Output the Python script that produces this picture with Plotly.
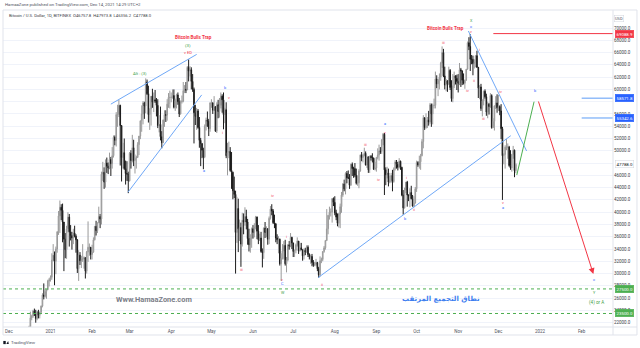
import pandas as pd
import plotly.graph_objects as go

# ---- Daily BTC/USD (Bitfinex) candles, values in thousands of USD ----
# one line per month: Dec-2020 (from the 16th) ... Dec-2021 (to the 14th)
open_k = [
    19.4,21.3,22.8,23.1,23.9,23.5,22.7,23.8,23.2,23.7,24.7,26.5,26.3,27.1,27.4,28.8,
    29.0,29.4,32.2,33.0,32.0,34.0,36.8,39.4,40.8,40.3,38.4,35.6,33.9,37.3,39.2,36.8,36.2,35.8,36.6,36.1,35.5,30.8,33.0,32.1,32.3,32.4,32.6,30.4,33.5,34.3,34.3,
    33.1,33.5,35.5,37.7,37.0,38.3,39.3,38.9,46.2,46.5,44.9,48.0,47.5,47.2,48.6,47.9,49.2,52.2,51.7,55.9,55.9,57.4,54.1,48.9,49.7,47.1,46.3,46.2,
    45.1,49.6,48.4,50.5,48.4,48.8,48.9,51.0,52.4,54.9,56.0,57.8,57.3,61.2,59.3,55.9,56.8,58.9,57.9,58.3,58.1,57.4,54.1,54.3,52.3,51.3,55.0,55.9,55.8,57.6,58.7,
    58.7,58.7,59.0,57.1,58.2,59.1,58.0,56.0,58.0,58.1,59.8,60.0,59.9,63.6,63.0,63.2,61.3,60.0,56.2,55.6,56.5,53.8,51.7,51.2,50.1,49.0,54.0,55.0,54.8,53.6,
    57.8,57.8,56.6,57.2,53.2,57.5,56.4,57.4,58.9,58.3,55.9,56.7,49.2,49.7,49.9,46.8,46.5,43.5,42.9,36.7,40.6,37.3,37.5,34.8,38.7,38.4,39.3,38.4,35.7,34.7,35.7,
    37.3,36.7,37.6,39.2,36.9,35.5,35.8,33.6,33.4,37.4,36.7,37.3,35.6,39.0,40.5,40.2,38.3,38.1,35.8,35.5,35.6,31.6,32.5,33.7,34.6,31.6,32.2,34.7,34.5,35.9,
    35.0,33.6,33.8,34.7,35.3,33.7,34.2,33.9,32.9,33.8,33.5,34.3,33.1,32.7,32.8,31.8,31.4,31.5,31.8,30.8,29.8,32.1,32.3,33.6,34.2,35.4,37.3,39.5,40.0,40.0,42.2,
    41.6,39.9,39.2,38.2,39.7,40.9,42.8,44.6,43.8,46.3,45.6,45.6,44.4,47.8,47.1,47.1,46.0,44.7,44.8,46.7,49.3,48.9,49.3,49.6,47.7,49.0,46.9,49.1,48.9,48.8,47.0,
    47.2,48.9,49.3,50.0,49.9,51.8,52.7,46.9,46.1,46.4,44.9,45.2,46.0,45.0,47.1,48.2,47.8,47.3,48.3,47.3,42.8,40.7,43.6,44.9,42.8,42.7,43.2,42.2,41.0,41.5,
    43.8,48.1,47.7,48.2,49.2,51.5,55.4,53.8,54.0,55.0,54.7,57.5,56.0,57.4,57.4,61.7,60.9,61.5,62.0,64.3,66.0,62.2,60.7,61.4,60.9,63.1,60.3,58.5,60.6,62.2,61.8,
    61.3,61.0,63.2,63.0,61.5,61.0,61.5,63.3,67.6,67.0,64.9,64.9,64.2,64.4,65.5,63.6,60.2,60.4,56.9,58.1,59.7,58.8,56.3,57.6,57.2,59.0,53.8,54.8,57.3,57.8,
    57.0,57.2,56.5,53.6,49.2,49.4,50.6,50.6,50.6,47.6,47.2,49.4,50.1,46.7578,
]
high_k = [
    21.5,23.8,23.3,24.1,24.3,24.1,23.9,24.1,23.8,24.8,26.8,28.4,27.5,27.4,29.0,29.3,
    29.7,33.3,34.8,33.6,34.4,36.9,40.2,41.9,41.3,41.4,38.4,36.6,37.8,40.0,39.7,37.9,36.8,37.3,37.8,36.4,35.6,33.8,33.5,32.9,34.8,32.8,32.6,33.7,38.5,34.9,34.3,
    34.7,35.9,37.7,38.6,38.3,40.9,39.7,46.6,48.2,47.3,48.6,48.9,48.1,49.7,49.0,50.6,52.5,52.5,56.3,57.5,58.3,57.5,54.2,51.3,52.0,48.4,48.3,46.6,
    49.8,50.1,52.6,51.8,49.4,49.2,51.4,52.4,54.9,57.4,58.1,58.0,61.8,61.6,60.6,56.9,58.9,60.1,59.5,59.9,58.6,58.4,55.8,57.2,53.2,55.1,56.6,56.6,58.4,59.4,59.8,
    59.5,60.0,60.0,58.5,59.3,59.5,58.6,58.2,59.0,61.2,60.7,61.2,63.8,64.9,63.8,63.6,62.5,60.3,57.5,57.0,56.8,55.5,52.1,51.2,50.5,54.3,55.4,56.4,55.2,57.9,
    58.4,57.9,58.9,57.2,57.9,58.3,58.6,59.5,59.2,59.5,57.0,57.9,51.3,51.5,50.6,49.8,46.6,45.8,43.5,42.5,42.2,38.8,38.3,39.9,39.8,40.8,40.4,38.9,37.3,36.4,37.5,
    37.9,38.2,39.4,39.3,37.9,36.5,36.8,34.1,37.5,38.4,37.7,37.4,39.3,41.0,41.3,40.5,39.6,38.2,36.4,36.1,35.7,33.3,34.8,35.3,35.5,32.7,34.7,35.3,36.6,36.0,
    35.0,33.9,34.9,35.9,35.3,35.0,35.0,33.9,34.1,34.2,34.6,34.6,33.3,33.1,33.2,32.2,31.9,32.4,31.9,31.1,32.8,32.6,33.6,34.5,35.4,40.5,39.5,40.9,40.6,42.3,42.4,
    42.6,40.4,39.8,39.9,41.4,43.3,44.7,45.3,46.5,46.7,46.8,46.2,47.9,48.1,47.4,48.0,47.1,46.0,47.0,49.4,49.8,49.5,50.5,49.9,49.2,49.1,49.2,49.3,49.6,48.9,48.2,
    49.0,50.4,51.0,50.6,51.9,52.9,52.9,47.3,47.4,47.1,45.9,46.4,46.9,47.3,48.5,48.5,48.2,48.8,48.4,47.4,43.6,44.0,44.9,45.1,42.9,43.9,44.3,42.8,42.6,44.1,
    48.4,48.3,49.2,49.5,51.9,55.8,55.4,56.1,55.5,56.5,57.8,57.7,57.7,58.5,62.9,62.3,61.7,62.6,64.5,67.0,66.6,63.7,61.7,61.5,63.7,63.3,61.5,62.5,62.9,62.3,62.4,
    62.5,64.3,63.5,63.1,62.6,61.6,63.3,67.8,68.5,69.0,65.6,65.5,64.9,65.5,66.3,63.6,60.7,60.9,58.4,59.8,60.0,59.3,58.0,57.8,59.4,59.2,55.3,57.4,58.9,59.2,
    59.1,57.4,57.6,53.9,49.6,50.9,51.9,51.2,50.8,50.1,49.5,50.8,50.2,47.9738,
]
low_k = [
    19.3,21.2,22.4,22.8,23.1,22.0,22.4,22.7,22.7,23.4,24.5,25.8,26.1,25.9,27.3,27.9,
    28.7,29.0,32.0,28.1,29.9,33.4,36.3,36.6,38.7,35.1,30.4,32.5,32.4,36.7,34.4,35.4,33.9,34.8,35.9,33.4,30.1,28.8,31.4,30.9,31.9,30.8,29.2,30.0,31.9,32.9,32.3,
    32.3,33.4,35.4,36.2,36.6,38.2,37.4,38.0,45.1,43.8,44.0,46.4,46.2,47.0,45.9,47.1,48.9,50.9,50.7,53.9,55.5,47.6,45.0,47.1,46.9,44.5,45.1,43.1,
    45.0,47.1,48.1,47.5,46.3,47.1,48.9,49.3,51.9,53.1,54.3,55.2,56.1,59.1,54.6,53.4,54.1,57.0,56.3,57.8,55.6,53.7,53.0,51.7,50.4,51.3,53.9,54.7,54.9,57.0,56.9,
    57.9,58.5,56.9,56.5,56.9,57.5,55.5,55.9,57.7,57.9,59.4,59.4,59.9,61.3,62.1,60.0,59.6,51.2,54.2,53.4,53.6,50.5,47.5,48.8,47.0,48.8,53.3,53.9,52.4,53.1,
    57.0,56.0,56.5,53.1,52.9,55.3,55.4,56.9,56.2,53.5,54.5,48.8,46.0,48.8,46.6,43.8,42.1,42.3,30.0,35.0,33.5,35.3,31.1,34.4,36.4,37.8,37.2,34.7,33.6,33.4,34.2,
    35.7,35.9,37.2,35.6,34.8,35.3,33.4,31.0,32.4,35.8,35.9,34.7,34.8,38.8,39.5,38.1,37.4,35.1,34.8,33.3,31.3,28.8,32.3,32.3,31.3,30.2,32.0,33.9,34.3,34.0,
    32.7,32.7,33.3,34.4,33.2,33.6,33.8,32.1,32.3,33.0,33.4,32.7,32.3,31.6,31.2,31.1,31.2,31.2,30.4,29.3,29.5,31.7,32.0,33.4,33.9,35.3,36.4,38.8,39.3,38.3,41.0,
    39.5,38.7,37.7,37.5,37.4,39.9,42.5,43.4,42.9,44.7,45.4,43.8,44.3,45.9,45.6,45.7,44.5,44.3,43.9,46.6,48.3,48.1,49.1,47.6,47.2,46.4,46.4,48.4,48.1,46.9,46.8,
    46.6,48.6,48.4,49.5,49.5,50.9,42.8,44.4,45.5,44.2,44.7,44.8,43.4,44.8,46.8,47.1,46.8,47.1,46.9,42.6,39.6,40.6,43.1,40.9,41.8,40.8,42.1,40.9,40.8,41.4,
    43.3,47.4,47.1,46.9,49.1,50.4,53.4,53.6,53.7,54.1,54.4,53.9,54.3,56.9,56.9,60.2,58.9,60.0,61.4,63.5,62.0,60.0,59.7,59.6,60.7,59.9,58.0,57.9,60.2,60.8,59.9,
    59.5,60.7,60.4,60.7,60.8,60.1,61.4,63.2,66.4,63.0,64.1,62.3,63.4,63.6,63.5,58.6,58.4,56.5,55.6,57.4,58.5,55.7,55.3,55.9,57.0,53.6,53.7,53.3,56.8,56.2,
    56.5,55.8,51.9,42.0,47.8,47.1,50.1,48.7,47.4,46.9,46.6,48.7,45.7,46.3562,
]
close_k = [
    21.3,22.8,23.1,23.9,23.5,22.7,23.8,23.2,23.7,24.7,26.5,26.3,27.1,27.4,28.8,29.0,
    29.4,32.2,33.0,32.0,34.0,36.8,39.4,40.8,40.3,38.4,35.6,33.9,37.3,39.2,36.8,36.2,35.8,36.6,36.1,35.5,30.8,33.0,32.1,32.3,32.4,32.6,30.4,33.5,34.3,34.3,33.1,
    33.5,35.5,37.7,37.0,38.3,39.3,38.9,46.2,46.5,44.9,48.0,47.5,47.2,48.6,47.9,49.2,52.2,51.7,55.9,55.9,57.4,54.1,48.9,49.7,47.1,46.3,46.2,45.1,
    49.6,48.4,50.5,48.4,48.8,48.9,51.0,52.4,54.9,56.0,57.8,57.3,61.2,59.3,55.9,56.8,58.9,57.9,58.3,58.1,57.4,54.1,54.3,52.3,51.3,55.0,55.9,55.8,57.6,58.7,58.7,
    58.7,59.0,57.1,58.2,59.1,58.0,56.0,58.0,58.1,59.8,60.0,59.9,63.6,63.0,63.2,61.3,60.0,56.2,55.6,56.5,53.8,51.7,51.2,50.1,49.0,54.0,55.0,54.8,53.6,57.8,
    57.8,56.6,57.2,53.2,57.5,56.4,57.4,58.9,58.3,55.9,56.7,49.2,49.7,49.9,46.8,46.5,43.5,42.9,36.7,40.6,37.3,37.5,34.8,38.7,38.4,39.3,38.4,35.7,34.7,35.7,37.3,
    36.7,37.6,39.2,36.9,35.5,35.8,33.6,33.4,37.4,36.7,37.3,35.6,39.0,40.5,40.2,38.3,38.1,35.8,35.5,35.6,31.6,32.5,33.7,34.6,31.6,32.2,34.7,34.5,35.9,35.0,
    33.6,33.8,34.7,35.3,33.7,34.2,33.9,32.9,33.8,33.5,34.3,33.1,32.7,32.8,31.8,31.4,31.5,31.8,30.8,29.8,32.1,32.3,33.6,34.2,35.4,37.3,39.5,40.0,40.0,42.2,41.6,
    39.9,39.2,38.2,39.7,40.9,42.8,44.6,43.8,46.3,45.6,45.6,44.4,47.8,47.1,47.1,46.0,44.7,44.8,46.7,49.3,48.9,49.3,49.6,47.7,49.0,46.9,49.1,48.9,48.8,47.0,47.2,
    48.9,49.3,50.0,49.9,51.8,52.7,46.9,46.1,46.4,44.9,45.2,46.0,45.0,47.1,48.2,47.8,47.3,48.3,47.3,42.8,40.7,43.6,44.9,42.8,42.7,43.2,42.2,41.0,41.5,43.8,
    48.1,47.7,48.2,49.2,51.5,55.4,53.8,54.0,55.0,54.7,57.5,56.0,57.4,57.4,61.7,60.9,61.5,62.0,64.3,66.0,62.2,60.7,61.4,60.9,63.1,60.3,58.5,60.6,62.2,61.8,61.3,
    61.0,63.2,63.0,61.5,61.0,61.5,63.3,67.6,67.0,64.9,64.9,64.2,64.4,65.5,63.6,60.2,60.4,56.9,58.1,59.7,58.8,56.3,57.6,57.2,59.0,53.8,54.8,57.3,57.8,57.0,
    57.2,56.5,53.6,49.2,49.4,50.6,50.6,50.6,47.6,47.2,49.4,50.1,46.7578,47.788,
]
dates = pd.date_range("2020-12-16", periods=len(close_k), freq="D")

# ---- axes ----
month_ticks = ["2020-12-01", "2021-01-01", "2021-02-01", "2021-03-01", "2021-04-01", "2021-05-01",
               "2021-06-01", "2021-07-01", "2021-08-01", "2021-09-01", "2021-10-01", "2021-11-01",
               "2021-12-01", "2022-01-01", "2022-02-01"]
month_labels = ["Dec", "2021", "Feb", "Mar", "Apr", "May", "Jun", "Jul", "Aug", "Sep", "Oct",
                "Nov", "Dec", "2022", "Feb"]
price_ticks = list(range(22000, 70001, 2000))
# levels whose scale label sits under a price tag
covered_ticks = {48000, 58000}
price_labels = ["" if v in covered_ticks else f"{v:.1f}" for v in price_ticks]

# ---- drawn analysis: trend lines (date, price) ----
blue_lines = [
    ("2021-02-15 00:00", 57600, "2021-04-20 00:00", 65700),
    ("2021-02-27 18:00", 43250, "2021-04-23 18:00", 59100),
    ("2021-07-19 12:00", 29330, "2021-12-10 05:00", 52460),
    ("2021-11-08 14:00", 69510, "2021-12-22 00:00", 49970),
]
green_path = ("2021-12-14 17:00", 46060, "2021-12-27 14:00", 58000)
red_path = ("2021-12-30 12:00", 58270, "2022-02-09 19:00", 29930)

ath_level = 69088.9
target_levels = [58571.8, 55342.6]
zone_levels = [27500.0, 23500.0]
last_close = 47788.0

# wave labels: (date, price, text, colour)
RED, BLUE, GREEN = "#f23645", "#2962ff", "#43a047"
wave_labels = [
    ("2021-04-25 12:00", 46710, "a", BLUE),
    ("2021-05-11 03:00", 60280, "b", BLUE),
    ("2021-05-14 08:00", 58650, "v", RED),
    ("2021-05-09 14:00", 52900, "i", RED),
    ("2021-05-23 19:00", 30700, "iii", RED),
    ("2021-06-15 17:00", 42690, "iv", RED),
    ("2021-06-26 03:00", 36010, "i", RED),
    ("2021-06-22 22:00", 29100, "v", RED),
    ("2021-06-22 22:00", 28350, "C", BLUE),
    ("2021-06-23 12:00", 26950, "W", GREEN),
    ("2021-07-22 05:00", 28255, "ii", RED),
    ("2021-08-24 00:00", 51060, "iii", RED),
    ("2021-09-02 14:00", 45370, "iv", RED),
    ("2021-09-07 10:00", 54400, "a", BLUE),
    ("2021-09-07 10:00", 53050, "v", RED),
    ("2021-09-23 19:00", 45730, "i", RED),
    ("2021-09-22 17:00", 38910, "b", BLUE),
    ("2021-09-29 07:00", 40470, "ii", RED),
    ("2021-10-20 22:00", 67670, "iii", RED),
    ("2021-11-08 02:00", 59740, "iv", RED),
    ("2021-11-10 17:00", 71250, "X", GREEN),
    ("2021-11-10 17:00", 70250, "c", BLUE),
    ("2021-11-10 17:00", 69450, "v", RED),
    ("2021-11-16 19:00", 66420, "i", RED),
    ("2021-11-13 00:00", 61530, "ii", RED),
    ("2021-11-19 17:00", 55180, "iii", RED),
    ("2021-12-02 22:00", 59630, "iv", RED),
    ("2021-12-04 17:00", 41550, "v", RED),
    ("2021-12-04 17:00", 40800, "a", BLUE),
    ("2021-12-28 07:00", 59740, "b", BLUE),
    ("2022-02-10 07:00", 29070, "c", BLUE),
    ("2022-02-10 12:00", 26840, "Y", GREEN),
]
notes = [
    ("2021-04-17 12:00", 68420, "<b>Bitcoin Bulls Trap</b>", RED, 4.6),
    ("2021-10-22 05:00", 69950, "<b>Bitcoin Bulls Trap</b>", RED, 4.6),
    ("2021-04-13 12:00", 67150, "(3)", GREEN, 4.4),
    ("2021-04-13 12:00", 66080, "v ED", RED, 4.0),
    ("2021-03-08 17:00", 62620, "Alt : (3)", GREEN, 4.2),
    ("2022-02-12 05:00", 25260, "(4) or A", GREEN, 4.6),
]

X_START, X_END = "2020-11-26 14:00", "2022-02-24 10:30"
Y_MIN, Y_MAX = 21300, 72932

fig = go.Figure(go.Candlestick(
    x=dates,
    open=[v * 1000 for v in open_k],
    high=[v * 1000 for v in high_k],
    low=[v * 1000 for v in low_k],
    close=[v * 1000 for v in close_k],
    increasing=dict(line=dict(color="#9a9a9a", width=1), fillcolor="#c8c8c8"),
    decreasing=dict(line=dict(color="#1c1c1c", width=1), fillcolor="#1c1c1c"),
    whiskerwidth=0, showlegend=False, hoverinfo="skip",
))

shapes = []
for x0, y0, x1, y1 in blue_lines:
    shapes.append(dict(type="line", xref="x", yref="y", x0=x0, y0=y0, x1=x1, y1=y1,
                       line=dict(color="#6fa8f7", width=1)))
shapes.append(dict(type="line", xref="x", yref="y", x0=green_path[0], y0=green_path[1],
                   x1=green_path[2], y1=green_path[3], line=dict(color="#4caf50", width=1)))
shapes.append(dict(type="line", xref="x", yref="y", x0="2021-11-27 05:00", y0=ath_level,
                   x1=X_END, y1=ath_level, line=dict(color="#f23645", width=1)))
for lvl in target_levels:
    shapes.append(dict(type="line", xref="x", yref="y", x0="2022-02-01 02:00", y0=lvl,
                       x1=X_END, y1=lvl, line=dict(color="#5b9cf6", width=1)))
for lvl in zone_levels:
    shapes.append(dict(type="line", xref="paper", yref="y", x0=0, y0=lvl, x1=1, y1=lvl,
                       line=dict(color="#4caf50", width=1, dash="dot")))
# chart frame and pane separators
shapes.append(dict(type="rect", xref="paper", yref="paper", x0=0, y0=-0.0252, x1=1.0393, y1=1.0,
                   line=dict(color="#e0e3eb", width=1)))
shapes.append(dict(type="line", xref="paper", yref="paper", x0=1, y0=-0.0252, x1=1, y1=1.0,
                   line=dict(color="#e0e3eb", width=1)))
shapes.append(dict(type="line", xref="paper", yref="paper", x0=0, y0=0, x1=1.0393, y1=0,
                   line=dict(color="#e0e3eb", width=1)))
# TradingView logo mark
shapes.append(dict(type="rect", xref="paper", yref="paper", x0=0.0005, y0=-0.0540, x1=0.0045, y1=-0.0440,
                   fillcolor="#131722", line=dict(width=0)))
shapes.append(dict(type="path", xref="paper", yref="paper",
                   path="M 0.0055 -0.0540 L 0.0085 -0.0440 L 0.0095 -0.0540 Z",
                   fillcolor="#131722", line=dict(width=0)))

annotations = []
# projected red move with arrow head
annotations.append(dict(x=red_path[2], y=red_path[3], ax=red_path[0], ay=red_path[1],
                        xref="x", yref="y", axref="x", ayref="y", text="", showarrow=True,
                        arrowhead=2, arrowsize=1.2, arrowwidth=1, arrowcolor="#f23645"))
for d, p, t, c in wave_labels:
    annotations.append(dict(x=d, y=p, xref="x", yref="y", text=t, showarrow=False,
                            font=dict(size=3.8, color=c, family="Roboto")))
for d, p, t, c, s in notes:
    annotations.append(dict(x=d, y=p, xref="x", yref="y", text=t, showarrow=False,
                            font=dict(size=s, color=c, family="Roboto")))
annotations.append(dict(x="2021-03-19 10:00", y=25750, xref="x", yref="y",
                        text="<b>Www.HamaaZone.com</b>", showarrow=False,
                        font=dict(size=7.4, color="#7b7e87", family="Roboto")))
annotations.append(dict(x="2021-10-19 00:00", y=25860, xref="x", yref="y",
                        text="<b>نطاق التجميع المرتقب</b>", showarrow=False,
                        font=dict(size=7, color="#3d7ef0", family="DejaVu Sans")))

# price-scale tags
def tag(value, bg, fg="white", border=None):
    return dict(x=1, xref="paper", xanchor="left", xshift=2, y=value, yref="y",
                text=f"{value:.1f}", showarrow=False, bgcolor=bg, borderpad=1,
                bordercolor=border or bg, borderwidth=0.5,
                font=dict(size=4.4, color=fg, family="Roboto"))

annotations.append(tag(ath_level, "#f23645"))
for lvl in target_levels:
    annotations.append(tag(lvl, "#2962ff"))
for lvl in zone_levels:
    annotations.append(tag(lvl, "#4caf50"))
annotations.append(tag(last_close, "#ffffff", fg="#131722", border="#d1d4dc"))
annotations.append(dict(x=1.018, xref="paper", y=0.984, yref="paper", text="USD", showarrow=False,
                        bgcolor="white", bordercolor="#d1d4dc", borderwidth=0.5, borderpad=0.5,
                        font=dict(size=4, color="#50535e", family="Roboto")))

# header / footer text
annotations.append(dict(x=0, y=1.0158, xref="paper", yref="paper", xanchor="left", yanchor="middle",
                        text="HamaaZone published on TradingView.com, Dec 14, 2021 14:29 UTC+2",
                        showarrow=False, font=dict(size=4.3, color="#50535e", family="Roboto")))
annotations.append(dict(x=0.006, y=0.9842, xref="paper", yref="paper", xanchor="left", yanchor="middle",
                        text="Bitcoin / U.S. Dollar, 1D, BITFINEX  O46757.8  H47973.8  L46356.2  C47788.0",
                        showarrow=False, font=dict(size=4.2, color="#3a3d46", family="Roboto")))
annotations.append(dict(x=0.0105, y=-0.0480, xref="paper", yref="paper", xanchor="left", yanchor="middle",
                        text="TradingView", showarrow=False,
                        font=dict(size=4.4, color="#50535e", family="Roboto")))

fig.update_layout(
    width=640, height=348,
    margin=dict(l=3, r=27, t=10, b=21),
    paper_bgcolor="white", plot_bgcolor="white",
    font=dict(family="Roboto", size=4.5, color="#50535e"),
    shapes=shapes, annotations=annotations,
    xaxis=dict(type="date", range=[X_START, X_END], rangeslider=dict(visible=False),
               tickvals=month_ticks, ticktext=month_labels, showgrid=False, zeroline=False,
               ticks="", tickfont=dict(size=4.5, color="#50535e"), fixedrange=True),
    yaxis=dict(side="right", range=[Y_MIN, Y_MAX], tickvals=price_ticks, ticktext=price_labels,
               showgrid=True, gridcolor="#f0f3fa", gridwidth=1, zeroline=False, ticks="",
               tickfont=dict(size=4.5, color="#3a3d46"), fixedrange=True),
)

fig.write_html("out.html")
